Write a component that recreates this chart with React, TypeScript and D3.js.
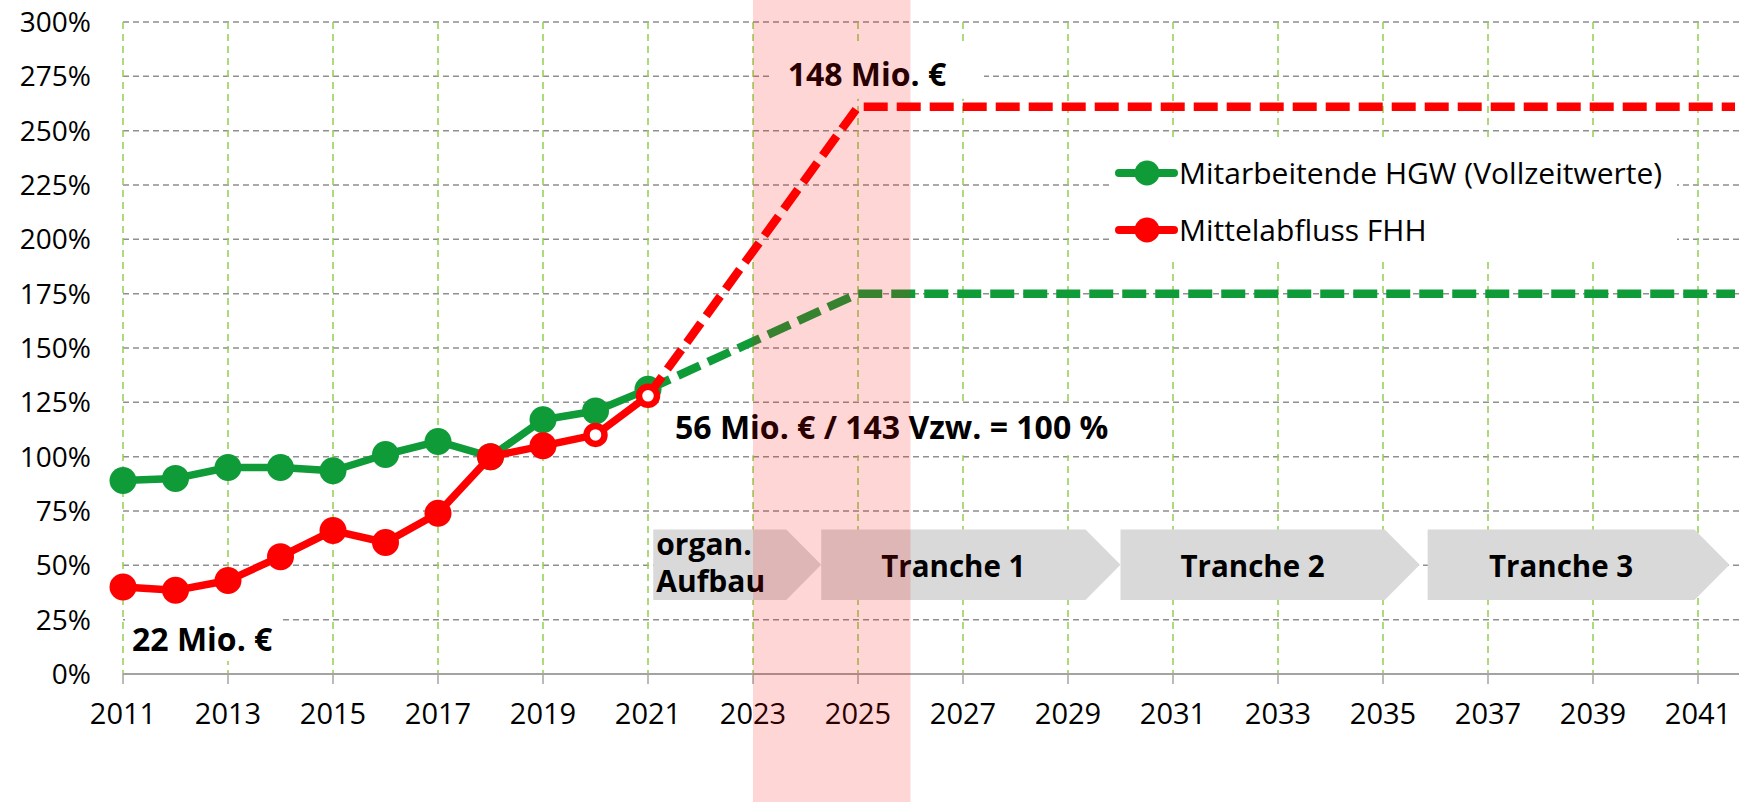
import React from 'react';
import * as d3 from 'd3';

// values (percent of 2018 = 100 %)
const years = [2011, 2012, 2013, 2014, 2015, 2016, 2017, 2018, 2019, 2020, 2021];
const staff = [89, 90, 95, 95, 93.5, 101, 107, 100, 117, 121, 131];
const funds = [40, 38.5, 43, 54, 66, 60.5, 74, 100, 105, 110, 128];
const fundsHollow = [false, false, false, false, false, false, false, false, false, true, true];

// planned development
const planYears = [2021, 2025, 2042];
const staffPlan = [131, 175, 175];
const fundsPlan = [128, 261, 261];

const yTicks = [0, 25, 50, 75, 100, 125, 150, 175, 200, 225, 250, 275, 300];
const xTicks = [2011, 2013, 2015, 2017, 2019, 2021, 2023, 2025, 2027, 2029, 2031, 2033, 2035, 2037, 2039, 2041];

const phaseLabels = [['organ.', 'Aufbau'], ['Tranche 1'], ['Tranche 2'], ['Tranche 3']];
const phaseStart = [2021.1, 2024.3, 2030, 2035.85];
const phaseEnd = [2024.3, 2030, 2035.7, 2041.6];

const bandYears = [2023, 2026];

const seriesNames = ['Mitarbeitende HGW (Vollzeitwerte)', 'Mittelabfluss FHH'];
const GREEN = '#109B39';
const RED = '#FF0000';

const W = 1739;
const H = 802;
const FONT = "'Open Sans', 'Noto Sans', sans-serif";

export default function App() {
  const x = d3.scaleLinear().domain([2011, 2041]).range([123, 1698]);
  const y = d3.scaleLinear().domain([0, 300]).range([674, 22]);
  const right = W;

  const line = d3.line<number>()
    .x((d, i) => x(years[i]))
    .y((d) => y(d));
  const planLine = d3.line<number>()
    .x((d, i) => x(planYears[i]))
    .y((d) => y(d));

  const tip = 35;
  const pTop = y(66.5);
  const pBot = y(34);

  return (
    <svg width={W} height={H} style={{ position: 'absolute', left: 0, top: 0, background: '#fff' }} fontFamily={FONT}>
      <defs>
        <clipPath id="plot">
          <rect x={0} y={0} width={right - 4} height={H} />
        </clipPath>
      </defs>
      {/* grid */}
      {yTicks.filter((t) => t > 0).map((t) => (
        <line key={'h' + t} x1={x(2011)} x2={right} y1={y(t)} y2={y(t)}
          stroke="#8f8f8f" strokeWidth={1.5} strokeDasharray="6 4" />
      ))}
      {xTicks.map((t) => (
        <line key={'v' + t} x1={x(t)} x2={x(t)} y1={y(300)} y2={y(0)}
          stroke="#92D050" strokeWidth={1.5} strokeDasharray="7 5" />
      ))}
      {/* x axis */}
      <line x1={x(2011)} x2={right} y1={y(0)} y2={y(0)} stroke="#a3a3a3" strokeWidth={2} />
      {xTicks.map((t) => (
        <line key={'t' + t} x1={x(t)} x2={x(t)} y1={y(0)} y2={y(0) + 10} stroke="#a3a3a3" strokeWidth={1.5} />
      ))}
      {xTicks.map((t) => (
        <text key={'xl' + t} x={x(t)} y={724} fontSize={29} textAnchor="middle" fill="#000">{t}</text>
      ))}
      {yTicks.map((t) => (
        <text key={'yl' + t} x={91} y={y(t)} dy="0.36em" fontSize={28} textAnchor="end" fill="#000">{t}%</text>
      ))}

      {/* white boxes behind labels and legend */}
      <rect x={x(2025) - 89} y={y(261) - 61} width={215} height={53} fill="#fff" />
      <rect x={x(2021) + 17} y={y(125) + 3} width={455} height={50} fill="#fff" />
      <rect x={x(2011) + 2} y={y(40) + 6} width={156} height={68} fill="#fff" />
      <rect x={1110} y={142} width={567} height={120} fill="#fff" />

      {/* phases */}
      {phaseLabels.map((lab, i) => {
        const x0 = x(phaseStart[i]);
        const x2 = x(phaseEnd[i]);
        const x1 = x2 - tip;
        const mid = (pTop + pBot) / 2;
        const pts = [[x0, pTop], [x1, pTop], [x2, mid], [x1, pBot], [x0, pBot]];
        return (
          <g key={'p' + i}>
            <polygon points={pts.map((p) => p.join(',')).join(' ')} fill="#D9D9D9" />
            {lab.length > 1 ? (
              <text x={x0 + 3} y={555} fontSize={30} fontWeight={700} fill="#000">
                <tspan x={x0 + 3}>{lab[0]}</tspan>
                <tspan x={x0 + 3} y={592}>{lab[1]}</tspan>
              </text>
            ) : (
              <text x={(x0 + x1) / 2} y={577} fontSize={29.5} fontWeight={700} textAnchor="middle" fill="#000">{lab[0]}</text>
            )}
          </g>
        );
      })}

      {/* series */}
      <g clipPath="url(#plot)">
        <path d={planLine(staffPlan) || ''} fill="none" stroke={GREEN} strokeWidth={8.5} strokeDasharray="24 9" />
        <path d={line(staff) || ''} fill="none" stroke={GREEN} strokeWidth={7.5} strokeLinejoin="round" />
        {staff.map((v, i) => (
          <circle key={'gs' + i} cx={x(years[i])} cy={y(v)} r={13.5} fill={GREEN} />
        ))}
        <path d={planLine(fundsPlan) || ''} fill="none" stroke={RED} strokeWidth={8.5} strokeDasharray="24 9" />
        <path d={line(funds) || ''} fill="none" stroke={RED} strokeWidth={7.5} strokeLinejoin="round" />
        {funds.map((v, i) => fundsHollow[i] ? (
          <circle key={'rs' + i} cx={x(years[i])} cy={y(v)} r={9} fill="#fff" stroke={RED} strokeWidth={6.5} />
        ) : (
          <circle key={'rs' + i} cx={x(years[i])} cy={y(v)} r={13.5} fill={RED} />
        ))}
      </g>

      {/* annotations */}
      <text x={x(2025) + 9} y={y(261) - 21} fontSize={32} fontWeight={700} textAnchor="middle" fill="#000">148 Mio. €</text>
      <text x={x(2021) + 27} y={439} fontSize={32} fontWeight={700} fill="#000">56 Mio. € / 143 Vzw. = 100 %</text>
      <text x={x(2011) + 9} y={651} fontSize={32} fontWeight={700} fill="#000">22 Mio. €</text>

      {/* legend */}
      {seriesNames.map((name, i) => {
        const cy = 173 + i * 57;
        const col = i === 0 ? GREEN : RED;
        return (
          <g key={'lg' + i}>
            <line x1={1119} x2={1174} y1={cy} y2={cy} stroke={col} strokeWidth={8} strokeLinecap="round" />
            <circle cx={1147} cy={cy} r={12.5} fill={col} />
            <text x={1179} y={cy + 10.5} fontSize={30} fill="#000">{name}</text>
          </g>
        );
      })}

      {/* highlighted period */}
      <rect x={x(bandYears[0])} y={0} width={x(bandYears[1]) - x(bandYears[0])} height={H} fill="rgba(255,0,0,0.16)" />
    </svg>
  );
}
